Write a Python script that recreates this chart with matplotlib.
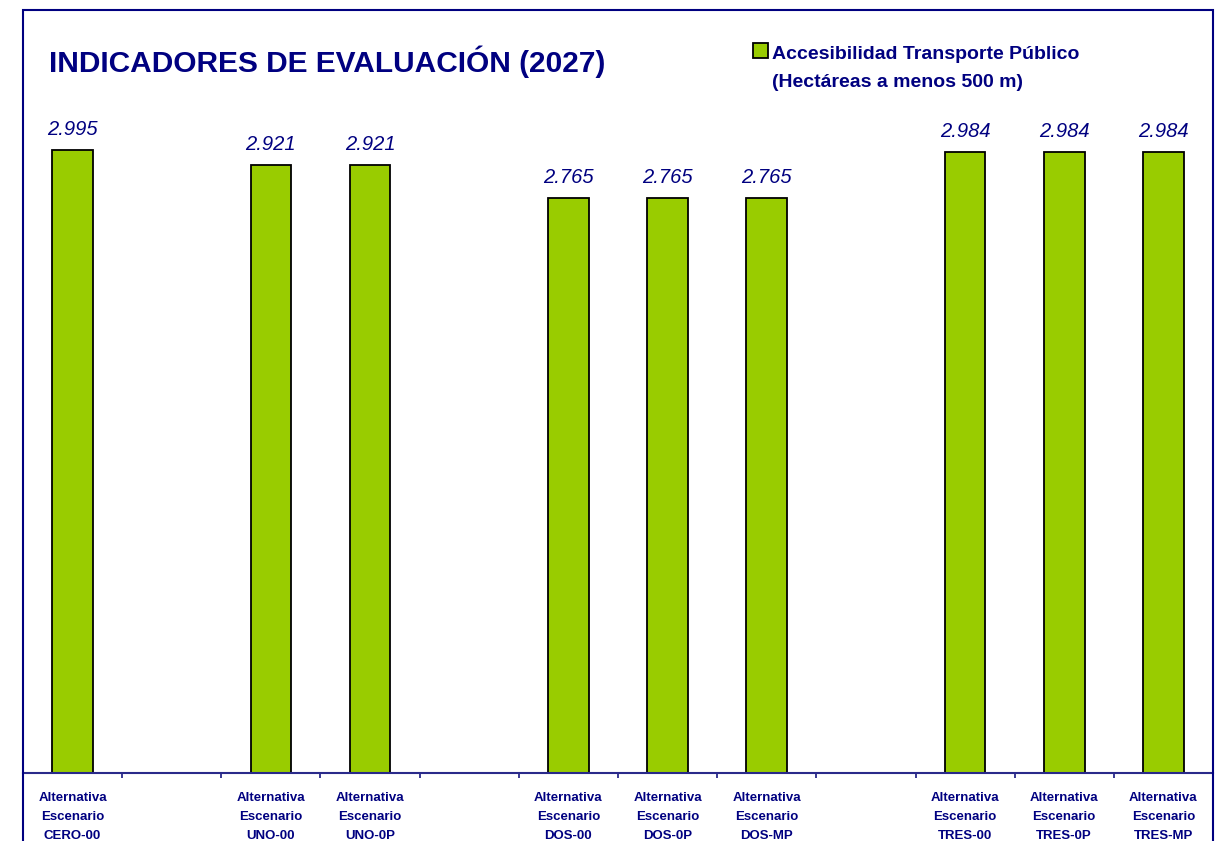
import numpy as np
import matplotlib
matplotlib.use('Agg')
import matplotlib.pyplot as plt
from matplotlib.patches import Rectangle

# datos del gráfico (huecos = posiciones vacías del eje)
escenarios = ['CERO-00', '', 'UNO-00', 'UNO-0P', '', 'DOS-00', 'DOS-0P', 'DOS-MP',
              '', 'TRES-00', 'TRES-0P', 'TRES-MP']
valores = [2.995, None, 2.921, 2.921, None, 2.765, 2.765, 2.765,
           None, 2.984, 2.984, 2.984]
titulo = 'INDICADORES DE EVALUACIÓN (2027)'
serie = 'Accesibilidad Transporte Público\n(Hectáreas a menos 500 m)'

navy = '#000080'
verde = '#99CC00'
W, H = 1223, 841

fig = plt.figure(figsize=(W / 100, H / 100), dpi=100)
fig.patch.set_facecolor('white')

# eje: de x=23 a x=1213 px, base en y=773 px, 208 px por unidad
ymax = 3.5
ax_left, ax_right, ax_base = 23, 1213, 773
ax_h = ymax * 208
ax = fig.add_axes([ax_left / W, (H - ax_base) / H, (ax_right - ax_left) / W, ax_h / H])
ax.set_facecolor('none')

pos = np.arange(len(escenarios))
idx = [i for i, v in enumerate(valores) if v is not None]
alturas = [valores[i] for i in idx]
barras = ax.bar(pos[idx], alturas, width=0.41, color=verde, edgecolor='black', linewidth=1.3)

for b, v in zip(barras, alturas):
    ax.annotate(f'{v:.3f}', (b.get_x() + b.get_width() / 2, v), xytext=(0, 11),
                textcoords='offset points', ha='center', va='baseline',
                fontsize=14.5, style='italic', color=navy,
                family=['Liberation Sans', 'DejaVu Sans'])

ax.set_xlim(-0.5, len(escenarios) - 0.5)
ax.set_ylim(0, ymax)
for s in ['left', 'right', 'top']:
    ax.spines[s].set_visible(False)
ax.spines['bottom'].set_color('#2a2a8a')
ax.spines['bottom'].set_linewidth(1.5)
ax.set_yticks([])

etiquetas = [f'Alternativa\nEscenario\n{e}' if e else '' for e in escenarios]
ax.set_xticks(pos)
ax.set_xticklabels(etiquetas, fontsize=9.5, fontweight='bold', color=navy,
                   family=['Liberation Sans', 'DejaVu Sans'], linespacing=1.73)
ax.set_xticks(np.arange(0.5, len(escenarios) - 0.5, 1), minor=True)
ax.tick_params(axis='x', which='major', length=0, pad=14)
ax.tick_params(axis='x', which='minor', length=3.5, width=1.3, color='#2a2a8a', direction='out')

# marco exterior
fig.add_artist(Rectangle((23 / W, -0.05), (1213 - 23) / W, (H - 10) / H + 0.05,
                         transform=fig.transFigure, fill=False, edgecolor=navy, linewidth=1.5))

fig.text(49 / W, 1 - 72 / H, titulo, fontsize=21.5, fontweight='bold', color=navy,
         family=['Liberation Sans Narrow', 'Liberation Sans', 'DejaVu Sans'], va='baseline')

# leyenda
fig.add_artist(Rectangle((753 / W, 1 - 58 / H), 15 / W, 15 / H, transform=fig.transFigure,
                         facecolor=verde, edgecolor='black', linewidth=1.3))
fig.text(772 / W, 1 - 87 / H, serie, fontsize=14, fontweight='bold', color=navy,
         family=['Liberation Sans', 'DejaVu Sans'], va='baseline', linespacing=1.83)

fig.savefig('out.png', dpi=100)
